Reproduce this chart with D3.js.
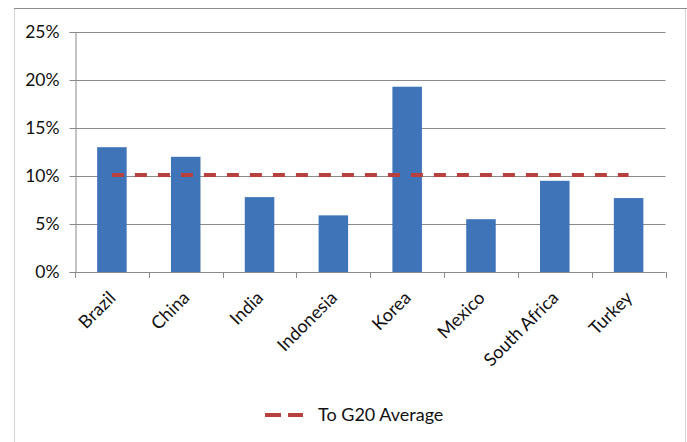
<!DOCTYPE html>
<html>
<head>
<meta charset="utf-8">
<script src="https://cdn.jsdelivr.net/npm/d3@7"></script>
<style>
  body { margin: 0; background: #fff; }
  text { font-family: Lato, "Open Sans", sans-serif; fill: #111; }
</style>
</head>
<body>
<svg id="chart" width="687" height="442"></svg>
<script>
var countries = ["Brazil", "China", "India", "Indonesia", "Korea", "Mexico", "South Africa", "Turkey"];
var shares = [13.0, 12.0, 7.8, 5.9, 19.3, 5.5, 9.5, 7.7];
var g20Average = [10.1, 10.1, 10.1, 10.1, 10.1, 10.1, 10.1, 10.1];
var yTicks = [0, 5, 10, 15, 20, 25];
var legendLabel = "To G20 Average";

var svg = d3.select("#chart");

// outer frame
svg.append("rect")
	.attr("x", 14.5).attr("y", 8.5)
	.attr("width", 671).attr("height", 440)
	.attr("fill", "none")
	.attr("stroke", "#d4d4d4");
svg.append("line")
	.attr("x1", 14).attr("x2", 687)
	.attr("y1", 8.5).attr("y2", 8.5)
	.attr("stroke", "#8c8c8c");

var plotL = 75, plotR = 665.5, plotT = 32, plotB = 272;

var x = d3.scaleBand().domain(countries).range([plotL, plotR]).paddingInner(0.6).paddingOuter(0.3);
var xc = d3.scalePoint().domain(countries).range([plotL, plotR]).padding(0.5);
var y = d3.scaleLinear().domain([0, 25]).range([plotB, plotT]);

// gridlines
svg.append("g").selectAll("line")
	.data(yTicks.filter(function (d) { return d > 0; }))
	.enter().append("line")
	.attr("x1", plotL).attr("x2", plotR)
	.attr("y1", function (d) { return Math.round(y(d)) + 0.5; })
	.attr("y2", function (d) { return Math.round(y(d)) + 0.5; })
	.attr("stroke", "#8a8a8a");

// bars
svg.append("g").selectAll("rect")
	.data(shares)
	.enter().append("rect")
	.attr("x", function (d, i) { return x(countries[i]); })
	.attr("width", x.bandwidth())
	.attr("y", function (d) { return y(d); })
	.attr("height", function (d) { return plotB - y(d); })
	.attr("fill", "#3f74b9");

// average line
var line = d3.line()
	.x(function (d, i) { return xc(countries[i]); })
	.y(function (d) { return y(d); });
svg.append("path")
	.datum(g20Average)
	.attr("d", line)
	.attr("fill", "none")
	.attr("stroke", "#b8403e")
	.attr("stroke-width", 4)
	.attr("stroke-dasharray", "12,11");

// y axis
var yAxis = svg.append("g")
	.attr("transform", "translate(" + (plotL + 0.5) + ",0)")
	.call(d3.axisLeft(y).tickValues(yTicks).tickSize(6).tickPadding(10)
		.tickFormat(function (d) { return d + "%"; }));
yAxis.select(".domain").attr("stroke", "#8a8a8a");
yAxis.selectAll(".tick line").attr("stroke", "#8a8a8a");
yAxis.selectAll("text").attr("font-size", 17.5).attr("fill", "#111")
	.style("font-family", "Lato, sans-serif");

// x axis
var boundaries = d3.range(countries.length + 1).map(function (i) {
	return plotL + i * (plotR - plotL) / countries.length;
});
svg.append("line")
	.attr("x1", plotL).attr("x2", plotR)
	.attr("y1", plotB + 0.5).attr("y2", plotB + 0.5)
	.attr("stroke", "#8a8a8a");
svg.append("g").selectAll("line")
	.data(boundaries)
	.enter().append("line")
	.attr("x1", function (d) { return Math.round(d) + 0.5; })
	.attr("x2", function (d) { return Math.round(d) + 0.5; })
	.attr("y1", plotB).attr("y2", plotB + 6)
	.attr("stroke", "#8a8a8a");

svg.append("g").selectAll("text")
	.data(countries)
	.enter().append("text")
	.attr("transform", function (d) { return "translate(" + (xc(d) - 4) + "," + (plotB + 18) + ") rotate(-45)"; })
	.attr("text-anchor", "end")
	.attr("dy", "0.7em")
	.attr("font-size", 18)
	.text(function (d) { return d; });

// legend
svg.append("line")
	.attr("x1", 265).attr("x2", 303)
	.attr("y1", 415).attr("y2", 415)
	.attr("stroke", "#b8403e")
	.attr("stroke-width", 4)
	.attr("stroke-dasharray", "16,7");
svg.append("text")
	.attr("x", 318).attr("y", 415)
	.attr("dy", "0.35em")
	.attr("font-size", 18)
	.text(legendLabel);
</script>
</body>
</html>
